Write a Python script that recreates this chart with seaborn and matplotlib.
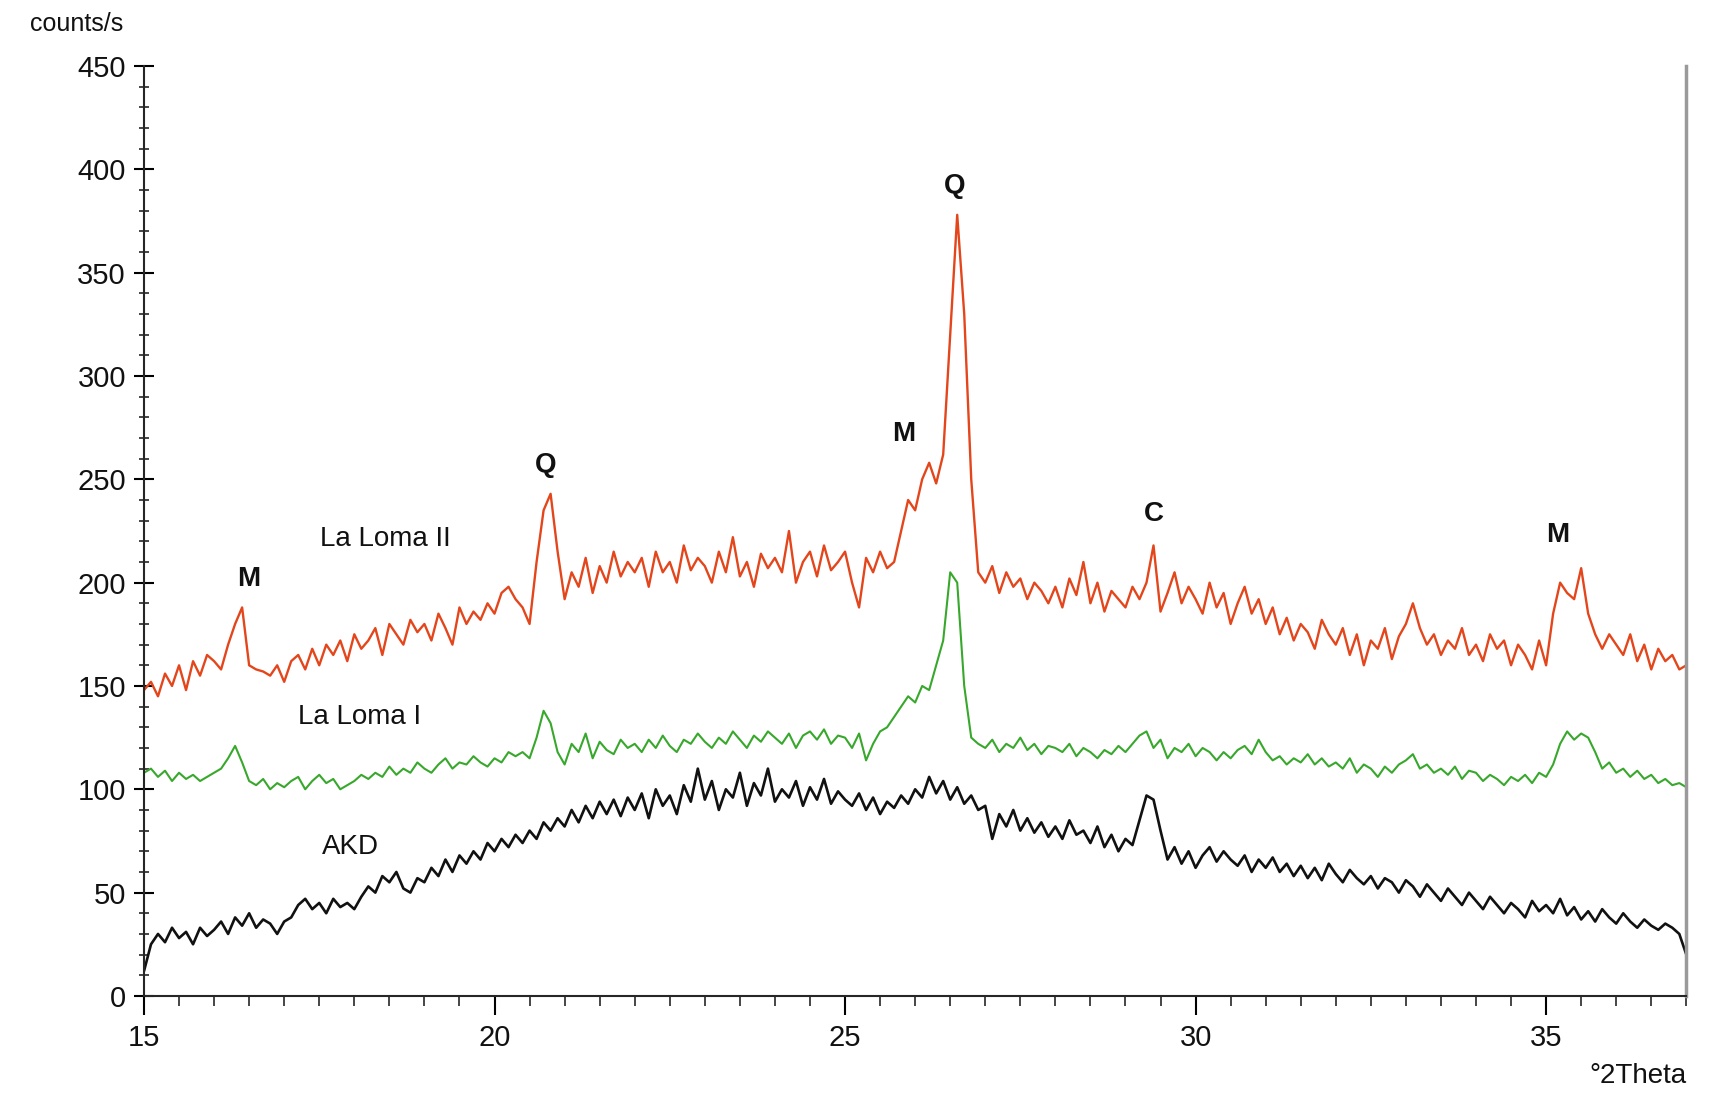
import numpy as np
import pandas as pd
import matplotlib
matplotlib.use("Agg")
import matplotlib.pyplot as plt
from matplotlib.ticker import MultipleLocator
import seaborn as sns

# 2theta grid, 0.1 deg steps from 15 to 37
theta = np.linspace(15, 37, 221)

# La Loma II (red)
la_loma_2 = [
    148, 152, 145, 156, 150, 160, 148, 162, 155, 165,
    162, 158, 170, 180, 188, 160, 158, 157, 155, 160,
    152, 162, 165, 158, 168, 160, 170, 165, 172, 162,
    175, 168, 172, 178, 165, 180, 175, 170, 182, 176,
    180, 172, 185, 178, 170, 188, 180, 186, 182, 190,
    185, 195, 198, 192, 188, 180, 210, 235, 243, 215,
    192, 205, 198, 212, 195, 208, 200, 215, 203, 210,
    205, 212, 198, 215, 205, 210, 200, 218, 206, 212,
    208, 200, 215, 205, 222, 203, 210, 198, 214, 207,
    212, 205, 225, 200, 210, 215, 203, 218, 206, 210,
    215, 200, 188, 212, 205, 215, 207, 210, 225, 240,
    235, 250, 258, 248, 262, 320, 378, 330, 250, 205,
    200, 208, 195, 205, 198, 202, 192, 200, 196, 190,
    198, 188, 202, 194, 210, 190, 200, 186, 196, 192,
    188, 198, 192, 200, 218, 186, 195, 205, 190, 198,
    192, 185, 200, 188, 195, 180, 190, 198, 185, 192,
    180, 188, 175, 183, 172, 180, 176, 168, 182, 175,
    170, 178, 165, 175, 160, 172, 168, 178, 163, 174,
    180, 190, 178, 170, 175, 165, 172, 168, 178, 165,
    170, 162, 175, 168, 172, 160, 170, 165, 158, 172,
    160, 185, 200, 195, 192, 207, 185, 175, 168, 175,
    170, 165, 175, 162, 170, 158, 168, 162, 165, 158,
    160,
]

# La Loma I (green)
la_loma_1 = [
    108, 110, 106, 109, 104, 108, 105, 107, 104, 106,
    108, 110, 115, 121, 113, 104, 102, 105, 100, 103,
    101, 104, 106, 100, 104, 107, 103, 105, 100, 102,
    104, 107, 105, 108, 106, 111, 107, 110, 108, 113,
    110, 108, 112, 115, 110, 113, 112, 116, 113, 111,
    115, 113, 118, 116, 118, 115, 125, 138, 132, 118,
    112, 122, 118, 127, 115, 123, 119, 117, 124, 120,
    122, 118, 124, 120, 126, 121, 118, 124, 122, 127,
    123, 120, 125, 122, 128, 124, 120, 126, 123, 128,
    125, 122, 127, 120, 126, 128, 124, 129, 122, 126,
    125, 120, 127, 114, 122, 128, 130, 135, 140, 145,
    142, 150, 148, 160, 172, 205, 200, 150, 125, 122,
    120, 124, 118, 122, 120, 125, 119, 122, 117, 121,
    120, 118, 122, 116, 120, 118, 115, 119, 117, 121,
    118, 122, 126, 128, 120, 124, 115, 120, 118, 122,
    116, 120, 118, 114, 118, 115, 119, 121, 117, 124,
    118, 114, 116, 112, 115, 113, 117, 112, 115, 111,
    113, 110, 115, 108, 112, 110, 106, 111, 108, 112,
    114, 117, 110, 112, 108, 110, 107, 111, 105, 109,
    108, 104, 107, 105, 102, 106, 104, 107, 103, 108,
    106, 112, 122, 128, 124, 127, 125, 118, 110, 113,
    108, 110, 106, 109, 105, 107, 103, 105, 102, 103,
    101,
]

# AKD (black)
akd = [
    12, 25, 30, 26, 33, 28, 31, 25, 33, 29,
    32, 36, 30, 38, 34, 40, 33, 37, 35, 30,
    36, 38, 44, 47, 42, 45, 40, 47, 43, 45,
    42, 48, 53, 50, 58, 55, 60, 52, 50, 57,
    55, 62, 58, 66, 60, 68, 64, 70, 66, 74,
    70, 76, 72, 78, 74, 80, 76, 84, 80, 86,
    82, 90, 84, 92, 86, 94, 88, 95, 87, 96,
    90, 98, 86, 100, 92, 97, 88, 102, 94, 110,
    95, 104, 90, 100, 96, 108, 92, 103, 97, 110,
    94, 100, 96, 104, 92, 101, 95, 105, 93, 99,
    95, 92, 98, 90, 96, 88, 94, 91, 97, 93,
    100, 96, 106, 98, 104, 95, 101, 93, 97, 90,
    92, 76, 88, 82, 90, 80, 86, 79, 84, 77,
    82, 76, 85, 78, 80, 74, 82, 72, 78, 70,
    76, 73, 85, 97, 95, 80, 66, 72, 64, 70,
    62, 68, 72, 65, 70, 66, 63, 68, 60, 66,
    62, 67, 60, 64, 58, 63, 57, 62, 56, 64,
    59, 55, 61, 57, 54, 58, 52, 57, 55, 50,
    56, 53, 48, 54, 50, 46, 52, 48, 44, 50,
    46, 42, 48, 44, 40, 45, 42, 38, 46, 41,
    44, 40, 47, 39, 43, 37, 41, 36, 42, 38,
    35, 40, 36, 33, 37, 34, 32, 35, 33, 30,
    20,
]

# peak markers: (2theta, counts, letter)
peak_labels = [(16.5, 202, "M"), (20.73, 257, "Q"), (25.83, 272, "M"),
               (26.56, 392, "Q"), (29.41, 233, "C"), (35.16, 223, "M")]
series_labels = [(18.44, 221, "La Loma II"), (18.08, 135, "La Loma I"),
                 (17.94, 72, "AKD")]

df = pd.DataFrame({"theta": theta, "La Loma II": la_loma_2,
                   "La Loma I": la_loma_1, "AKD": akd})

sns.set_style("ticks")
plt.rcParams["font.family"] = ["Liberation Sans", "DejaVu Sans"]

fig = plt.figure(figsize=(17.12, 10.93), dpi=100)
ax = fig.add_axes([0.0841, 0.0888, 0.9009, 0.8508])

colors = {"La Loma II": "#e4461c", "La Loma I": "#38a82c", "AKD": "#111111"}
widths = {"La Loma II": 1.7, "La Loma I": 1.5, "AKD": 1.9}
for name in ["AKD", "La Loma I", "La Loma II"]:
    sns.lineplot(data=df, x="theta", y=name, ax=ax, color=colors[name],
                 linewidth=widths[name], estimator=None)

for x, y, s in peak_labels:
    ax.text(x, y, s, ha="center", va="center", fontsize=20, fontweight="bold",
            color="#111111")
for x, y, s in series_labels:
    ax.text(x, y, s, ha="center", va="center", fontsize=20, color="#111111")

ax.set_xlim(15, 37)
ax.set_ylim(0, 450)
ax.xaxis.set_major_locator(MultipleLocator(5))
ax.xaxis.set_minor_locator(MultipleLocator(0.5))
ax.yaxis.set_major_locator(MultipleLocator(50))
ax.yaxis.set_minor_locator(MultipleLocator(10))
ax.tick_params(axis="both", which="major", labelsize=21, width=1.5,
               color="black", labelcolor="#111111")
ax.tick_params(axis="y", which="major", direction="inout", length=14, pad=6)
ax.tick_params(axis="y", which="minor", direction="inout", length=7, width=1.2)
ax.tick_params(axis="x", which="major", direction="out", length=14, pad=6)
ax.tick_params(axis="x", which="minor", direction="out", length=7, width=1.2)
ax.set_xlabel("")
ax.set_ylabel("")

ax.spines["top"].set_visible(False)
ax.spines["right"].set_color("#9a9a9a")
ax.spines["right"].set_linewidth(2.5)
ax.spines["left"].set_linewidth(1.5)
ax.spines["bottom"].set_linewidth(1.5)

fig.text(0.045, 0.978, "counts/s", ha="center", va="center", fontsize=18,
         color="#111111")
fig.text(0.957, 0.016, "°2Theta", ha="center", va="center", fontsize=20,
         color="#111111")

fig.savefig("out.png", dpi=100, facecolor="white")
